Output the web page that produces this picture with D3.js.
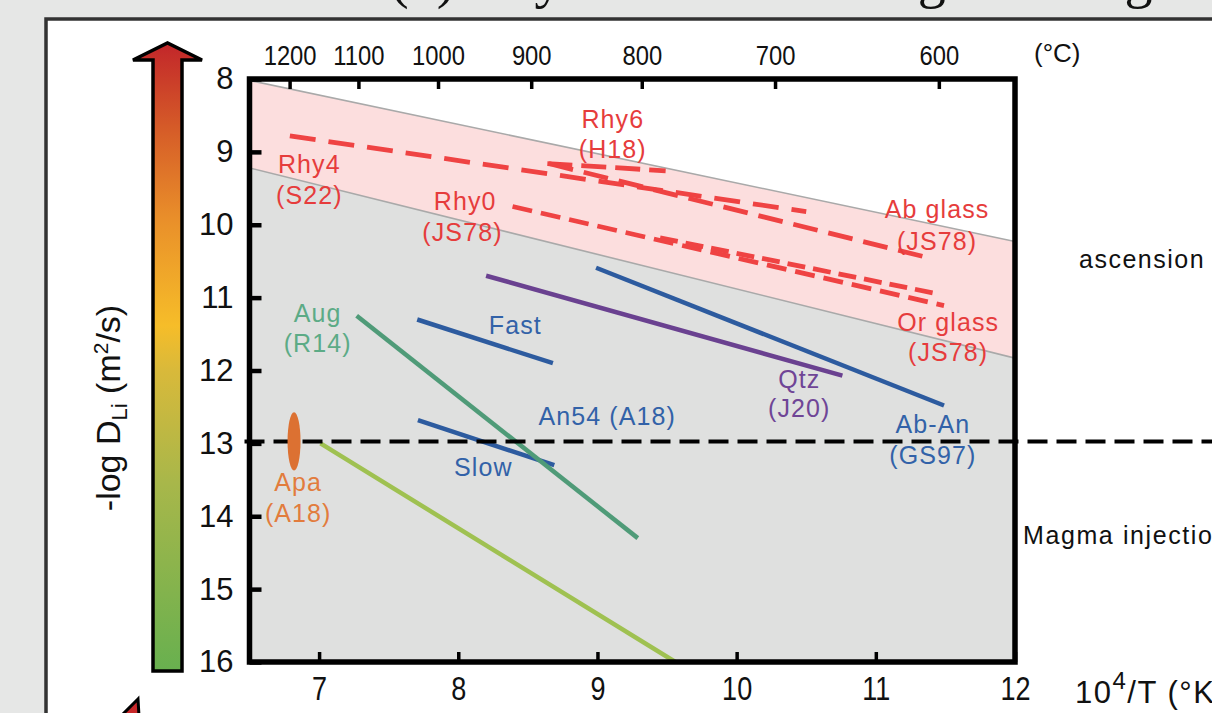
<!DOCTYPE html>
<html><head><meta charset="utf-8">
<script src="https://cdn.jsdelivr.net/npm/d3@7"></script>
<style>
body{margin:0;background:#e6e7e6;overflow:hidden;}
svg{display:block;font-family:"Liberation Sans",Arial,Helvetica,sans-serif;}
</style></head><body>
<svg id="c" width="1212" height="713"></svg>
<script>
// ---------- data ----------
const yTicks = [8, 9, 10, 11, 12, 13, 14, 15, 16];
const xTicks = [7, 8, 9, 10, 11, 12];
const tempTicksC = [1200, 1100, 1000, 900, 800, 700, 600];

// rhyolite-glass band (upper / lower boundaries)
const bandUpper = [[6.5, 8.02], [12, 10.23]];
const bandLower = [[6.5, 9.22], [12, 11.83]];

// glass / melt (dashed red)
const rhy4 = [[6.79, 8.78], [10.50, 9.82]];
const rhy6 = [[8.64, 9.16], [9.49, 9.26]];
const abGlass = [[8.65, 9.16], [11.35, 10.44]];
const rhy0 = [[8.39, 9.75], [11.49, 11.11]];
const orGlass = [[9.45, 10.18], [11.45, 10.95]];

// minerals (solid)
const qtz = [[8.20, 10.70], [10.76, 12.07]];
const abAn = [[8.99, 10.59], [11.49, 12.48]];
const an54Fast = [[7.705, 11.30], [8.68, 11.90]];
const an54Slow = [[7.71, 12.68], [8.69, 13.30]];
const aug = [[7.27, 11.25], [9.29, 14.30]];
const olLine = [[7.01, 13.0], [9.56, 16.0]];
const apa = [6.82, 13.0, 0.40]; // x, centre -logD, half-range

const thresholdY = 13;

const labelText = ["Rhy4", "(S22)", "Rhy6", "(H18)", "Rhy0", "(JS78)", "Ab glass", "(JS78)", "Or glass", "(JS78)",
  "Aug", "(R14)", "Fast", "An54 (A18)", "Slow", "Qtz", "(J20)", "Ab-An", "(GS97)", "Apa", "(A18)"];
const labelX = [6.93, 6.93, 9.11, 9.11, 8.05, 8.03, 11.44, 11.44, 11.52, 11.52,
  6.99, 6.99, 8.41, 9.07, 8.18, 10.45, 10.45, 11.41, 11.41, 6.85, 6.85];
const labelY = [9.16, 9.59, 8.55, 8.96, 9.67, 10.10, 9.78, 10.22, 11.34, 11.75,
  11.21, 11.62, 11.38, 12.62, 13.32, 12.11, 12.52, 12.73, 13.16, 13.53, 13.95];
const labelGroup = ["r","r","r","r","r","r","r","r","r","r","g","g","b","b","b","p","p","b","b","o","o"];

// ---------- drawing ----------
const W = 1212, H = 713;
const svg = d3.select("#c");
const x = d3.scaleLinear().domain([6.5, 12]).range([249.5, 1015]);
const y = d3.scaleLinear().domain([8, 16]).range([79, 662]);

const RED = "#ef4343", RED_T = "#e63c3c", BLUE = "#2d5b9f", BLUE_T = "#3262a8",
      PURP = "#6a4190", PURP_T = "#6f4596", AUG = "#4f9b78", AUG_T = "#5cab86",
      OL = "#9fc151", ORANGE = "#dc7132", ORANGE_T = "#e27c3d";
const textColor = {r: RED_T, g: AUG_T, b: BLUE_T, p: PURP_T, o: ORANGE_T};

// page + panel
svg.append("rect").attr("width", W).attr("height", H).attr("fill", "#e6e7e6");
svg.append("rect").attr("x", 46).attr("y", 19).attr("width", W + 20).attr("height", H + 20)
  .attr("fill", "#ffffff").attr("stroke", "#333").attr("stroke-width", 3.5);

// clipped title of the figure (only descenders visible)
svg.append("text").attr("x", 390).attr("y", -3)
  .attr("font-family", "Liberation Serif, Times New Roman, serif").attr("font-size", 56)
  .attr("fill", "#111").text("(b) Key Li diffusion stages during magma ascending");

// colour-bar arrow
const defs = svg.append("defs");
const grad = defs.append("linearGradient").attr("id", "cb").attr("x1", 0).attr("y1", 1).attr("x2", 0).attr("y2", 0);
[[0, "#68b04f"], [0.3, "#a8b74a"], [0.48, "#d9b93a"], [0.55, "#f6bd29"], [0.72, "#e98f2a"], [0.86, "#d65d28"], [1, "#c2262a"]]
  .forEach(s => grad.append("stop").attr("offset", s[0]).attr("stop-color", s[1]));
svg.append("path")
  .attr("d", "M153,671 L153,60 L133,60 L167.5,43 L202,60 L182,60 L182,671 Z")
  .attr("fill", "url(#cb)").attr("stroke", "#000").attr("stroke-width", 3.5).attr("stroke-linejoin", "miter");

// partial arrow at bottom-left (next panel)
svg.append("path").attr("d", "M138,699 L121,716 L139,716 Z")
  .attr("fill", "#c8282a").attr("stroke", "#000").attr("stroke-width", 3);

// y-axis title
const yt = svg.append("text").attr("transform", "translate(120,408) rotate(-90)")
  .attr("text-anchor", "middle").attr("font-size", 34).attr("fill", "#111");
yt.append("tspan").text("-log D");
yt.append("tspan").attr("font-size", 22).attr("dy", 7).text("Li");
yt.append("tspan").attr("dy", -7).text(" (m");
yt.append("tspan").attr("font-size", 21).attr("dy", -12).text("2");
yt.append("tspan").attr("dy", 12).text("/s)");

// plot area
defs.append("clipPath").attr("id", "plotclip").append("rect")
  .attr("x", x(6.5)).attr("y", y(8)).attr("width", x(12) - x(6.5)).attr("height", y(16) - y(8));
const plot = svg.append("g").attr("clip-path", "url(#plotclip)");

const lerp = (pts, xv) => {
  const [a, b] = pts; return a[1] + (b[1] - a[1]) * (xv - a[0]) / (b[0] - a[0]);
};
const xs = [6.5, 12];
const area = d3.area().x(d => x(d.x)).y0(d => y(d.y0)).y1(d => y(d.y1));
plot.append("path").datum(xs.map(v => ({x: v, y0: lerp(bandLower, v), y1: 16})))
  .attr("d", area).attr("fill", "#dfe0df");
plot.append("path").datum(xs.map(v => ({x: v, y0: lerp(bandUpper, v), y1: lerp(bandLower, v)})))
  .attr("d", area).attr("fill", "#fcdede");
plot.append("path").datum(xs.map(v => ({x: v, y0: 8, y1: lerp(bandUpper, v)})))
  .attr("d", area).attr("fill", "#ffffff");

const line = d3.line().x(d => x(d[0])).y(d => y(d[1]));
[bandUpper, bandLower].forEach(b => plot.append("path").datum(b).attr("d", line)
  .attr("fill", "none").attr("stroke", "#a9a9a9").attr("stroke-width", 1.6));

// dashed glass lines
const dashed = [[rhy4, "26,13"], [rhy6, "25,9"], [abGlass, "25,11"], [rhy0, "20,9"], [orGlass, "18,8"]];
dashed.forEach(([pts, da]) => plot.append("path").datum(pts).attr("d", line)
  .attr("fill", "none").attr("stroke", RED).attr("stroke-width", 4.8).attr("stroke-dasharray", da));

// solid mineral lines
const solid = [[qtz, PURP], [abAn, BLUE], [an54Fast, BLUE], [an54Slow, BLUE], [aug, AUG], [olLine, OL]];
solid.forEach(([pts, c]) => plot.append("path").datum(pts).attr("d", line)
  .attr("fill", "none").attr("stroke", c).attr("stroke-width", 4.5));

// threshold dashed line
svg.append("line").attr("x1", x(6.5) - 5).attr("x2", W).attr("y1", y(thresholdY) - 2).attr("y2", y(thresholdY) - 2)
  .attr("stroke", "#000").attr("stroke-width", 4).attr("stroke-dasharray", "20,9");

// apatite ellipse
svg.append("ellipse").attr("cx", x(apa[0])).attr("cy", y(apa[1]) - 2)
  .attr("rx", 6.5).attr("ry", (y(apa[1] + apa[2]) - y(apa[1] - apa[2])) / 2).attr("fill", ORANGE);

// labels
svg.append("g").selectAll("text").data(labelText).join("text")
  .attr("x", (d, i) => x(labelX[i])).attr("y", (d, i) => y(labelY[i]))
  .attr("text-anchor", "middle").attr("dominant-baseline", "central")
  .attr("font-size", 25).attr("letter-spacing", 1.1)
  .attr("fill", (d, i) => textColor[labelGroup[i]]).text(d => d);

// frame
svg.append("rect").attr("x", x(6.5)).attr("y", y(8)).attr("width", x(12) - x(6.5)).attr("height", y(16) - y(8))
  .attr("fill", "none").attr("stroke", "#000").attr("stroke-width", 5.5);

// axes
const ax = svg.append("g").attr("transform", `translate(${x(6.5)},0)`)
  .call(d3.axisLeft(y).tickValues(yTicks).tickSize(-12).tickPadding(16).tickFormat(d3.format("d")));
ax.select(".domain").remove();
ax.selectAll("line").attr("stroke-width", 4.5);
ax.selectAll("text").attr("font-size", 31).attr("fill", "#111").attr("font-family", "Liberation Sans, Arial, sans-serif");

const bx = svg.append("g").attr("transform", `translate(0,${y(16)})`)
  .call(d3.axisBottom(x).tickValues(xTicks).tickSize(-10).tickPadding(15).tickFormat(d3.format("d")));
bx.select(".domain").remove();
bx.selectAll("line").attr("stroke-width", 3.5);
bx.selectAll("text").attr("font-size", 33).attr("fill", "#111").attr("transform", "scale(0.82,1)")
  .attr("font-family", "Liberation Sans, Arial, sans-serif");

const tx = svg.append("g").attr("transform", `translate(0,${y(8)})`)
  .call(d3.axisTop(x).tickValues(tempTicksC.map(c => 1e4 / (c + 273.15))).tickSize(-10).tickPadding(14)
    .tickFormat((d, i) => tempTicksC[i]));
tx.select(".domain").remove();
tx.selectAll("line").attr("stroke-width", 3.5);
tx.selectAll("text").attr("font-size", 28).attr("fill", "#111").attr("transform", "scale(0.85,1)")
  .attr("font-family", "Liberation Sans, Arial, sans-serif");

svg.append("text").attr("x", 1034).attr("y", 62).attr("font-size", 26).attr("fill", "#111").text("(°C)");

const xt = svg.append("text").attr("x", 1075).attr("y", 703).attr("font-size", 31)
  .attr("letter-spacing", 1.5).attr("fill", "#111");
xt.append("tspan").text("10");
xt.append("tspan").attr("font-size", 24).attr("dy", -14).text("4");
xt.append("tspan").attr("dy", 14).text("/T (°K");
xt.append("tspan").attr("font-size", 20).attr("dy", -12).text("-1");
xt.append("tspan").attr("dy", 12).text(")");

// stage annotations
svg.append("text").attr("x", 1079).attr("y", 268).attr("font-size", 25).attr("letter-spacing", 1.5)
  .attr("fill", "#111").text("ascension");
svg.append("text").attr("x", 1023).attr("y", 544).attr("font-size", 25).attr("letter-spacing", 1.6)
  .attr("fill", "#111").text("Magma injection");
</script>
</body></html>
